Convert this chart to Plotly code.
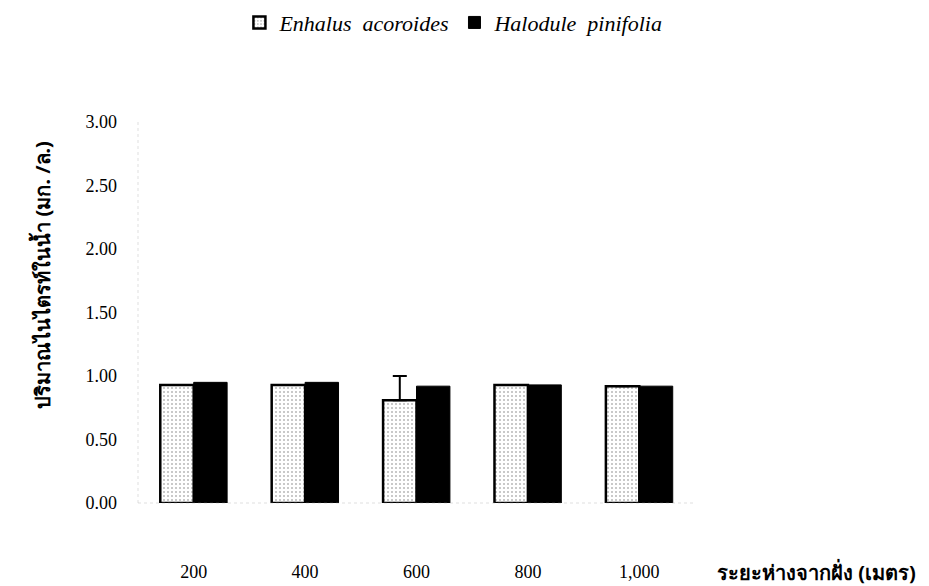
import plotly.graph_objects as go

# distance from shore (m)
distances = ["200", "400", "600", "800", "1,000"]

# nitrite in water (mg/L)
enhalus = [0.93, 0.93, 0.81, 0.93, 0.92]
enhalus_err = [None, None, 0.19, None, None]
halodule = [0.95, 0.95, 0.92, 0.93, 0.92]

y_ticks = [0, 0.5, 1.0, 1.5, 2.0, 2.5, 3.0]

SERIF = "Liberation Serif, Times New Roman, serif"
THAI = "Noto Sans, Liberation Serif, sans-serif"

fig = go.Figure()
fig.add_trace(go.Bar(
    x=distances, y=enhalus,
    name="<i>Enhalus  acoroides</i>",
    marker=dict(
        color="white",
        line=dict(color="black", width=2.5),
        pattern=dict(shape=".", fgcolor="#6e6e6e", bgcolor="white", size=4, solidity=0.2),
    ),
    error_y=dict(type="data", array=enhalus_err, symmetric=False,
                 arrayminus=[0] * 5, color="black", thickness=2, width=7),
))
fig.add_trace(go.Bar(
    x=distances, y=halodule,
    name="<i>Halodule  pinifolia</i>",
    marker=dict(color="black", line=dict(color="black", width=1)),
))

fig.update_layout(
    width=929, height=586,
    template="simple_white",
    plot_bgcolor="white", paper_bgcolor="white",
    font=dict(family=SERIF, size=18, color="black"),
    margin=dict(l=130, r=242, t=114, b=82),
    barmode="group", bargap=0.4, bargroupgap=0,
    showlegend=True,
    legend=dict(orientation="h", x=0.48, xref="container", xanchor="center",
                y=0.975, yref="container", yanchor="middle",
                font=dict(family=SERIF, size=22),
                itemwidth=30, tracegroupgap=0),
)

fig.update_xaxes(showline=False, ticks="", ticklabelstandoff=56,
                 tickfont=dict(family=SERIF, size=18))
fig.update_yaxes(range=[0, 3], tickvals=y_ticks, tickformat=".2f",
                 showline=False, ticks="", ticklabelstandoff=20,
                 showgrid=False, zeroline=False,
                 tickfont=dict(family=SERIF, size=18))

# dotted axes like the scanned original
fig.add_shape(type="line", xref="x domain", yref="y domain", x0=0, x1=0, y0=0, y1=1,
              line=dict(color="#9a9a9a", width=1, dash="dot"))
fig.add_shape(type="line", xref="x domain", yref="y domain", x0=0, x1=1, y0=0, y1=0,
              line=dict(color="#9a9a9a", width=1, dash="dot"))

fig.add_annotation(text="<b>ปริมาณไนไตรท์ในน้ำ (มก. /ล.)</b>", textangle=-90,
                   xref="paper", yref="paper", x=-0.172, y=0.6,
                   xanchor="center", yanchor="middle", showarrow=False,
                   font=dict(family=THAI, size=20))
fig.add_annotation(text="<b>ระยะห่างจากฝั่ง (เมตร)</b>",
                   xref="paper", yref="paper", x=1.4, y=-0.18,
                   xanchor="right", yanchor="middle", showarrow=False,
                   font=dict(family=THAI, size=20))

fig.write_html("out.html")
